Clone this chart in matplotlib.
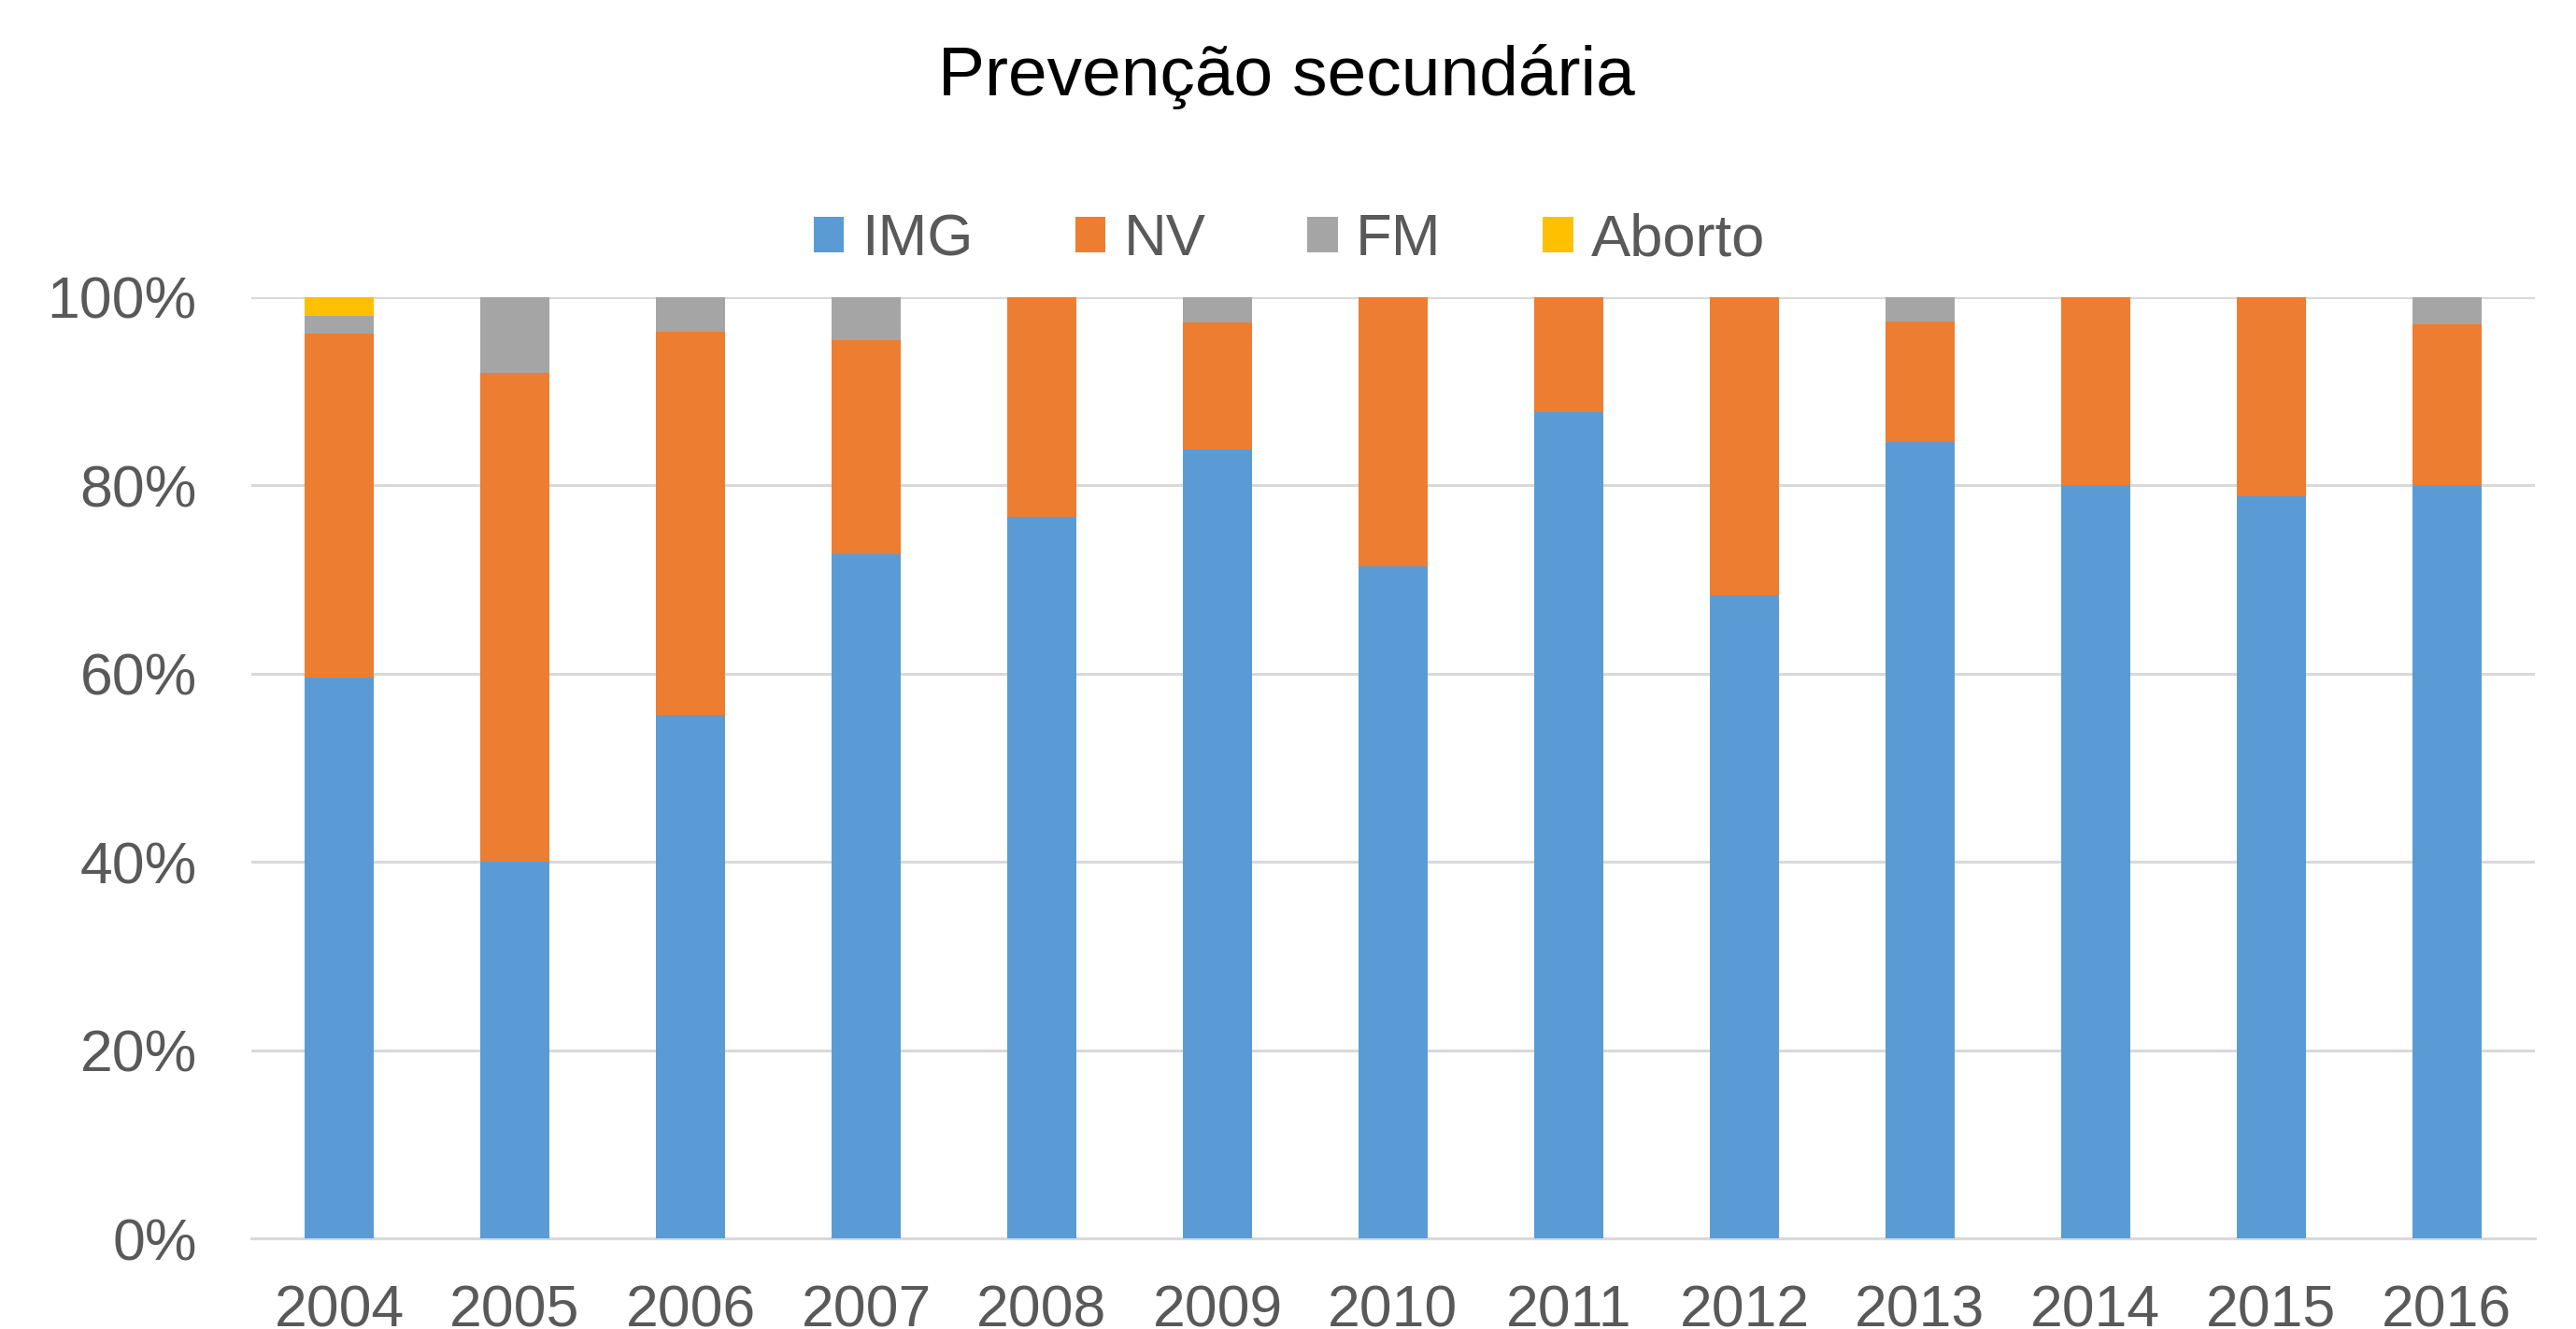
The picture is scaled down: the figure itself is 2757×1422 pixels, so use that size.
import numpy as np
from matplotlib import pyplot as plt
from matplotlib.ticker import FuncFormatter

plt.rcParams['font.family'] = ['Liberation Sans', 'DejaVu Sans']

# data (percent of each year)
years = ['2004', '2005', '2006', '2007', '2008', '2009', '2010',
         '2011', '2012', '2013', '2014', '2015', '2016']
img = [59.6, 40.0, 55.6, 72.7, 76.7, 83.8, 71.4, 87.8, 68.3, 84.6, 80.0, 78.8, 80.0]
nv = [36.5, 52.0, 40.7, 22.7, 23.3, 13.5, 28.6, 12.2, 31.7, 12.8, 20.0, 21.2, 17.1]
fm = [1.9, 8.0, 3.7, 4.6, 0.0, 2.7, 0.0, 0.0, 0.0, 2.6, 0.0, 0.0, 2.9]
aborto = [2.0, 0, 0, 0, 0, 0, 0, 0, 0, 0, 0, 0, 0]

series = [('IMG', img, '#5B9BD5'),
          ('NV', nv, '#ED7D31'),
          ('FM', fm, '#A5A5A5'),
          ('Aborto', aborto, '#FFC000')]

TXT = '#595959'

fig = plt.figure(figsize=(27.57, 14.22), dpi=100)
ax = fig.add_axes([0.0976, 0.0682, 0.8864, 0.7082])

x = np.arange(len(years))
bottom = np.zeros(len(years))
for name, vals, col in series:
    vals = np.array(vals, dtype=float)
    ax.bar(x, vals, 0.395, bottom=bottom, color=col, label=name,
           linewidth=0, zorder=3)
    bottom += vals

ax.set_xlim(-0.5, len(years) - 0.5)
ax.set_ylim(0, 100)
ax.set_yticks(np.arange(0, 101, 20))
ax.yaxis.set_major_formatter(FuncFormatter(lambda v, p: '%d%%' % v))
ax.set_xticks(x)
ax.set_xticklabels(years)
ax.grid(axis='y', color='#D9D9D9', linewidth=2.2, zorder=0)
for s in ['top', 'right', 'left']:
    ax.spines[s].set_visible(False)
ax.spines['bottom'].set_color('#D9D9D9')
ax.spines['bottom'].set_linewidth(2.2)
ax.tick_params(axis='both', length=0, labelsize=45, colors=TXT)
ax.tick_params(axis='y', pad=42)
ax.tick_params(axis='x', pad=35)

fig.text(0.4995, 0.942, 'Prevenção secundária', ha='center', va='center',
         fontsize=54, color='black')

leg = fig.legend(loc='center', bbox_to_anchor=(0.5005, 0.8195), ncol=4,
                 frameon=False, fontsize=45.5, handlelength=0.52,
                 handleheight=0.55, handletextpad=0.3, columnspacing=1.72)
for t in leg.get_texts():
    t.set_color(TXT)

fig.savefig('out.png', dpi=100)
